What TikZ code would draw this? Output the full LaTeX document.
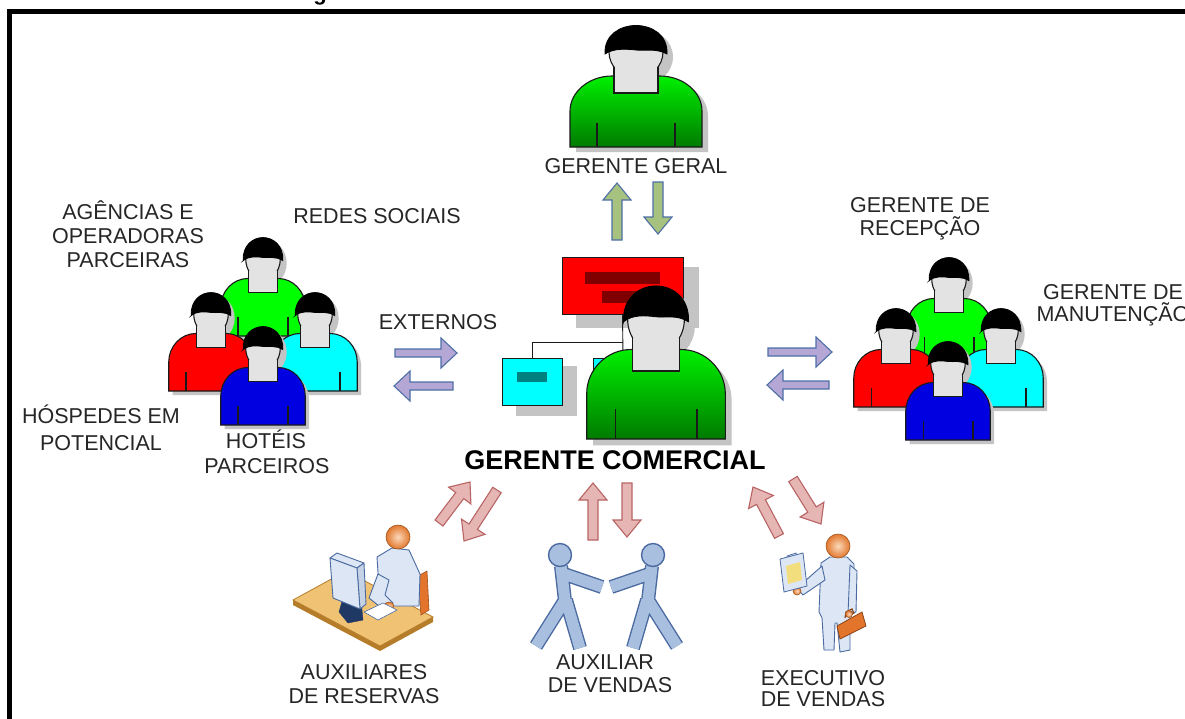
\documentclass[tikz,border=0pt]{standalone}
\usepackage{fontspec}
\setmainfont{Liberation Sans}
\usetikzlibrary{calc}

\definecolor{txtgray}{HTML}{262626}
\definecolor{outl}{HTML}{1A1A1A}
\definecolor{facegray}{HTML}{E3E3E3}
\definecolor{pshadow}{HTML}{C4C4C4}
\definecolor{shTop}{HTML}{00F000}
\definecolor{shBot}{HTML}{007A00}
\definecolor{pgreen}{HTML}{00FF00}
\definecolor{pred}{HTML}{FF0000}
\definecolor{pcyan}{HTML}{00FFFF}
\definecolor{pblue}{HTML}{0000E0}
\definecolor{darkred}{HTML}{800000}
\definecolor{teal}{HTML}{008080}
\definecolor{arrGreen}{HTML}{A6C27E}
\definecolor{arrPurple}{HTML}{B4A7D6}
\definecolor{arrPink}{HTML}{E6B6B5}
\definecolor{arrBlue}{HTML}{4E6FA6}
\definecolor{arrRed}{HTML}{B86464}
\definecolor{bodyfill}{HTML}{DCE6F4}
\definecolor{bodyline}{HTML}{4A6AA0}
\definecolor{stickfill}{HTML}{A9BFE0}
\definecolor{skinA}{HTML}{FBD8BA}
\definecolor{skinB}{HTML}{E2782E}
\definecolor{desktop}{HTML}{F0C274}
\definecolor{deskedge}{HTML}{B57C2A}
\definecolor{navy}{HTML}{1F3864}
\definecolor{caseorange}{HTML}{E2742C}
\definecolor{screenyellow}{HTML}{F2DE7C}

% shirt outline of the person icon, origin at the bottom centre of the shirt
\newcommand\shirtpath{(-66,0) -- (-66,-36) .. controls (-66,-55) and (-47,-71) .. (-24,-71) -- (24,-71) .. controls (47,-71) and (66,-55) .. (66,-36) -- (66,0) -- cycle}
\newcommand\hairpath{(-31,-93) .. controls (-33,-131) and (33,-131) .. (31,-93) .. controls (20,-99) and (8,-96) .. (0,-97) .. controls (-10,-98) and (-22,-99) .. cycle}

% block arrow between two named points: style, from, to, shaft half width, head half width, head length
\newcommand\blockarrow[6]{%
  \coordinate (bahead) at ($(#3)!#6pt!(#2)$);
  \path[#1] ($(#2)!#4pt!-90:(#3)$) -- ($(bahead)!#4pt!-90:(#3)$) -- ($(bahead)!#5pt!-90:(#3)$) -- (#3)
    -- ($(bahead)!#5pt!90:(#3)$) -- ($(bahead)!#4pt!90:(#3)$) -- ($(#2)!#4pt!90:(#3)$) -- cycle;
}

% limbs of a stick figure
\newcommand\sticklimbs{(561,566) -- (565,601) (564,574) -- (602,587) (565,600) -- (536,646) (566,600) -- (580,648)}

\tikzset{
  lbl/.style={font=\fontsize{21.5}{24}\selectfont, text=txtgray, inner sep=0pt, anchor=base},
  boldlbl/.style={font=\bfseries\fontsize{27}{30}\selectfont, text=black, inner sep=0pt, anchor=base},
  ocbox/.style={draw=outl, line width=0.9pt, inner sep=0pt},
  grArrow/.style={fill=arrGreen, draw=arrBlue, line width=1.1pt, line join=miter},
  puArrow/.style={fill=arrPurple, draw=arrBlue, line width=1.1pt, line join=miter},
  pkArrow/.style={fill=arrPink, draw=arrRed, line width=1.1pt, line join=miter},
  body/.style={fill=bodyfill, draw=bodyline, line width=0.9pt, line join=round},
  skin/.style={inner color=skinA, outer color=skinB, draw=skinB!70!black, line width=0.6pt},
  pics/person/.style={code={
    \begin{scope}[shift={(6,5)}]
      \fill[pshadow] \shirtpath;
      \fill[pshadow] (0,-95) ellipse[x radius=31, y radius=28];
    \end{scope}
    \path[draw=outl, line width=1.1pt, #1] \shirtpath;
    \draw[outl, line width=1.1pt] (-39,-24) -- (-39,0) (39,-24) -- (39,0);
    \filldraw[fill=facegray, draw=outl, line width=1.1pt] (0,-95) ellipse[x radius=27, y radius=26];
    \fill[facegray] (-22,-80) rectangle (22,-54);
    \draw[outl, line width=1.1pt] (-22,-80) -- (-22,-54) -- (22,-54) -- (22,-80);
    \filldraw[fill=black, draw=black, line width=0.8pt] \hairpath;
  }}
}

\begin{document}
\begin{tikzpicture}[x=1pt, y=-1pt]
\useasboundingbox (0,0) rectangle (1185,718);
\fill[white] (0,0) rectangle (1185,718);

% descender of the heading above the frame
\node[font=\bfseries\fontsize{22}{24}\selectfont, inner sep=0pt, anchor=base] (headg) at (320,0.5) {g};

% outer frame
\draw[line width=5pt, line cap=butt, line join=miter] (9.5,730) -- (9.5,11.5) -- (1195,11.5);

% ---------- organisation chart behind the sales manager ----------
\fill[pshadow] (576,267) rectangle (699,328);
\fill[pshadow] (516,366) rectangle (577,416);
\fill[pshadow] (607,366) rectangle (668,416);
\node[ocbox, fill=pred, minimum width=121, minimum height=57] (boss) at (622.5,285.5) {};
\node[ocbox, fill=pcyan, minimum width=60, minimum height=47] (cy1) at (532,381.5) {};
\node[ocbox, fill=pcyan, minimum width=60, minimum height=47] (cy2) at (623,381.5) {};
\fill[darkred] (585,272) rectangle (660,284);
\fill[darkred] (602,291) rectangle (652,303);
\fill[teal] (517,372) rectangle (547,382);
\coordinate (junc) at (623,342);
\draw[outl, line width=0.9pt] (boss.south) -- (cy2.north);
\draw[outl, line width=0.9pt] (cy1.north) |- (junc);

% ---------- managers ----------
\pic[xscale=1.05, yscale=1.26] (gcom) at (656,439) {person={top color=shTop, bottom color=shBot}};
\pic (gger) at (636,147) {person={top color=shTop, bottom color=shBot}};

% ---------- external group ----------
\begin{scope}[every pic/.style={xscale=0.64, yscale=0.81}]
\pic (eg1) at (263,336) {person={fill=pgreen}};
\pic (eg2) at (211,391) {person={fill=pred}};
\pic (eg3) at (315,391) {person={fill=pcyan}};
\pic (eg4) at (263,425) {person={fill=pblue}};
% ---------- internal group ----------
\pic (ig1) at (949,356) {person={fill=pgreen}};
\pic (ig2) at (896,407) {person={fill=pred}};
\pic (ig3) at (1001,407) {person={fill=pcyan}};
\pic (ig4) at (948,440) {person={fill=pblue}};
\end{scope}

% ---------- arrow end points ----------
\coordinate (gU1) at (617,240); \coordinate (gU2) at (617,183);
\coordinate (gD1) at (658,182); \coordinate (gD2) at (658,234);
\coordinate (lR1) at (395,353); \coordinate (lR2) at (457,353);
\coordinate (lL1) at (453,386); \coordinate (lL2) at (394,386);
\coordinate (rR1) at (768,352); \coordinate (rR2) at (832,352);
\coordinate (rL1) at (829,385); \coordinate (rL2) at (767,385);
\coordinate (p1a) at (439,523); \coordinate (p1b) at (470,482);
\coordinate (p2a) at (497,490); \coordinate (p2b) at (464,541);
\coordinate (p3a) at (593,540); \coordinate (p3b) at (593,483);
\coordinate (p4a) at (627,483); \coordinate (p4b) at (627,537);
\coordinate (p5a) at (779,536); \coordinate (p5b) at (753,487);
\coordinate (p6a) at (793,479); \coordinate (p6b) at (821,524);

\blockarrow{grArrow}{gU1}{gU2}{5}{14}{17}
\blockarrow{grArrow}{gD1}{gD2}{5}{14}{17}
\blockarrow{puArrow}{lR1}{lR2}{4}{15}{16}
\blockarrow{puArrow}{lL1}{lL2}{4}{15}{16}
\blockarrow{puArrow}{rR1}{rR2}{4}{15}{16}
\blockarrow{puArrow}{rL1}{rL2}{4}{15}{16}
\blockarrow{pkArrow}{p1a}{p1b}{5}{14}{17}
\blockarrow{pkArrow}{p2a}{p2b}{5}{14}{17}
\blockarrow{pkArrow}{p3a}{p3b}{5}{14}{17}
\blockarrow{pkArrow}{p4a}{p4b}{5}{14}{17}
\blockarrow{pkArrow}{p5a}{p5b}{5}{14}{17}
\blockarrow{pkArrow}{p6a}{p6b}{5}{14}{17}

% ---------- reservations clerk at a desk ----------
\fill[deskedge] (293,600) -- (380,646) -- (433,617) -- (433,622) -- (380,651) -- (293,605) -- cycle;
\filldraw[fill=desktop, draw=deskedge, line width=0.8pt] (293,600) -- (380,646) -- (433,617) -- (346,571) -- cycle;
\filldraw[fill=caseorange, draw=caseorange!70!black, line width=0.6pt] (418,576) -- (427,571) -- (429,610) -- (421,615) -- cycle;
\path[body] (377,557) -- (392,548) -- (409,550) -- (420,574) -- (419,606) -- (388,606) -- (379,588) -- cycle;
\path[body] (378,574) -- (369,598) -- (384,610) -- (393,603) -- (385,595) -- (389,580) -- cycle;
\path[skin] (389,606) ellipse[x radius=5, y radius=4];
\path[skin] (398,537) circle[radius=12];
\filldraw[fill=white, draw=bodyline, line width=0.6pt] (364,612) -- (383,603) -- (397,610) -- (378,620) -- cycle;
\filldraw[fill=navy, draw=navy] (343,598) -- (352,592) -- (361,600) -- (363,620) -- (348,623) -- (339,612) -- cycle;
\path[body] (330,558) -- (337,553) -- (364,563) -- (357,568) -- cycle;
\path[body, fill=bodyfill!85!bodyline] (357,568) -- (364,563) -- (366,604) -- (360,609) -- cycle;
\path[body] (330,558) -- (357,568) -- (360,609) -- (333,598) -- cycle;

% ---------- two sales assistants shaking hands ----------
\draw[bodyline, line width=14pt, line join=round] \sticklimbs;
\begin{scope}[shift={(1213,0)}, xscale=-1]
\draw[bodyline, line width=14pt, line join=round] \sticklimbs;
\end{scope}
\draw[stickfill, line width=11.2pt, line join=round] \sticklimbs;
\begin{scope}[shift={(1213,0)}, xscale=-1]
\draw[stickfill, line width=11.2pt, line join=round] \sticklimbs;
\end{scope}
\filldraw[fill=stickfill, draw=bodyline, line width=1.4pt] (560,555) circle[radius=11.5];
\filldraw[fill=stickfill, draw=bodyline, line width=1.4pt] (653,555) circle[radius=11.5];

% ---------- sales executive ----------
\path[body] (821,563) -- (830,557) -- (847,557) -- (854,564) -- (854,612) -- (850,617) -- (850,650) -- (840,652) -- (837,623) -- (835,623) -- (834,650) -- (824,650) -- (822,618) -- (819,612) -- cycle;
\path[body] (822,566) -- (825,580) -- (803,595) -- (797,588) -- cycle;
\path[body] (850,565) -- (857,571) -- (856,612) -- (848,614) -- cycle;
\path[skin] (797,591) circle[radius=4];
\path[skin] (838,546) circle[radius=12];
\filldraw[fill=bodyfill, draw=bodyline, line width=0.8pt] (787,556) -- (796,553) -- (797,557) -- (788,560) -- cycle;
\filldraw[fill=bodyfill, draw=bodyline, line width=0.8pt] (780,559) -- (803,553) -- (807,586) -- (784,592) -- cycle;
\fill[screenyellow] (786,566) -- (800,562) -- (802,580) -- (788,584) -- cycle;
\draw[caseorange!60!black, line width=1.2pt] (845,618) -- (846,612) -- (852,609) -- (854,614);
\filldraw[fill=caseorange, draw=caseorange!60!black, line width=0.8pt] (837,626) -- (862,612) -- (866,626) -- (840,639) -- cycle;
\path[skin] (849,614) circle[radius=3.5];

% ---------- labels ----------
\node[lbl] (gg) at (636,173) {GERENTE GERAL};
\node[lbl] (ag1) at (128,219) {AGÊNCIAS E};
\node[lbl] (ag2) at (128,243) {OPERADORAS};
\node[lbl] (ag3) at (128,267) {PARCEIRAS};
\node[lbl] (rs) at (377,223) {REDES SOCIAIS};
\node[lbl] (ext) at (438,329) {EXTERNOS};
\node[lbl] (hp1) at (101,423) {HÓSPEDES EM};
\node[lbl] (hp2) at (101,450) {POTENCIAL};
\node[lbl] (ho1) at (266,448) {HOTÉIS};
\node[lbl] (ho2) at (267,473) {PARCEIROS};
\node[boldlbl] (gc) at (615,469) {GERENTE COMERCIAL};
\node[lbl] (gr1) at (920,212) {GERENTE DE};
\node[lbl] (gr2) at (920,235) {RECEPÇÃO};
\node[lbl] (gm1) at (1113,299) {GERENTE DE};
\node[lbl] (gm2) at (1113,321) {MANUTENÇÃO};
\node[lbl] (ar1) at (364,679) {AUXILIARES};
\node[lbl] (ar2) at (364,703) {DE RESERVAS};
\node[lbl] (av1) at (605,669) {AUXILIAR};
\node[lbl] (av2) at (610,692) {DE VENDAS};
\node[lbl] (ev1) at (823,685) {EXECUTIVO};
\node[lbl] (ev2) at (823,706) {DE VENDAS};
\end{tikzpicture}
\end{document}
